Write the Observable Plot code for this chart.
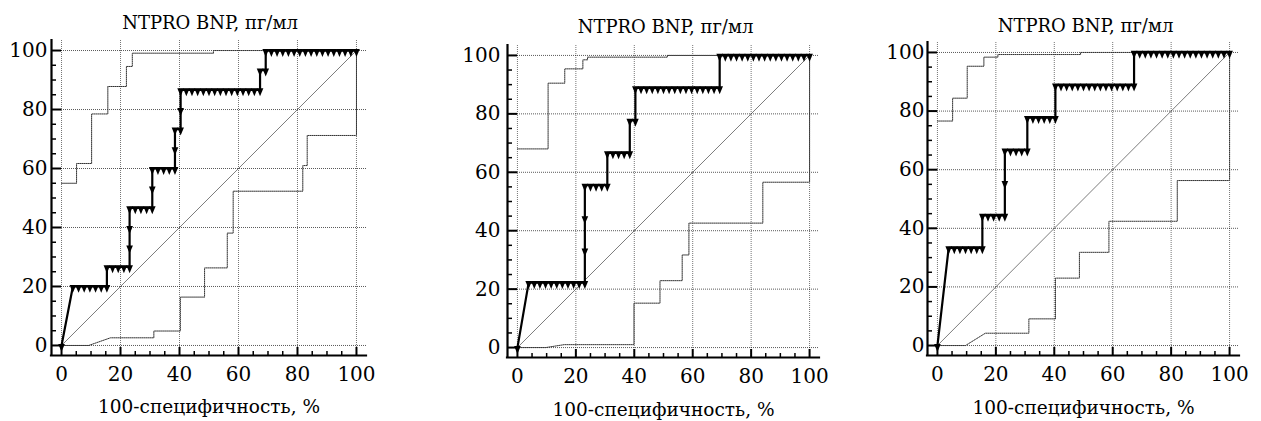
<!DOCTYPE html>
<html><head><meta charset="utf-8">
<script src="https://cdn.jsdelivr.net/npm/d3@7"></script>
<script src="https://cdn.jsdelivr.net/npm/@observablehq/plot@0.6"></script>
<style>
body{margin:0;background:#fff;}
#wrap{position:relative;width:1261px;height:421px;overflow:hidden;background:#fff;}
.panel{position:absolute;top:0;}
</style></head><body><div id="wrap"></div>
<script>
// ---------- texts & ticks ----------
const titleText = "NTPRO BNP, пг/мл";
const xLabelText = "100-специфичность, %";
const tickValues = [0, 20, 40, 60, 80, 100];
const minorTickValues = [5, 10, 15, 25, 30, 35, 45, 50, 55, 65, 70, 75, 85, 90, 95];
const diagonal = [[0, 0], [100, 100]];

// ---------- panel 1 ----------
const p1Roc = [[0,0],[3.85,20],[5.77,20],[7.69,20],[9.62,20],[11.54,20],[13.46,20],[15.38,20],
  [15.38,26.67],[17.31,26.67],[19.23,26.67],[21.15,26.67],[23.08,26.67],
  [23.08,33.33],[23.08,40],[23.08,46.67],[25,46.67],[26.92,46.67],[28.85,46.67],[30.77,46.67],
  [30.77,53.33],[30.77,60],[32.69,60],[34.62,60],[36.54,60],[38.46,60],
  [38.46,66.67],[38.46,73.33],[40.38,73.33],[40.38,80],[40.38,86.67],
  [42.31,86.67],[44.23,86.67],[46.15,86.67],[48.08,86.67],[50,86.67],[51.92,86.67],[53.85,86.67],
  [55.77,86.67],[57.69,86.67],[59.62,86.67],[61.54,86.67],[63.46,86.67],[65.38,86.67],[67.31,86.67],
  [67.31,93.33],[69.23,93.33],[69.23,100],
  [71.15,100],[73.08,100],[75,100],[76.92,100],[78.85,100],[80.77,100],[82.69,100],[84.62,100],
  [86.54,100],[88.46,100],[90.38,100],[92.31,100],[94.23,100],[96.15,100],[98.08,100],[100,100]];
const p1Upper = [[0,55],[5.1,55],[5.1,61.7],[10.2,61.7],[10.2,78.5],[15.7,78.5],[15.7,87.8],[22,87.8],
  [22,94.6],[24,94.6],[24,99.1],[51.5,99.1],[51.5,100],[100,100]];
const p1Lower = [[0,0],[9.2,0],[16.6,2.6],[31.3,2.6],[31.3,4.9],[40.3,4.9],[40.3,16.4],[48.5,16.4],
  [48.5,26.3],[56.2,26.3],[56.2,38.1],[58.2,38.1],[58.2,52.3],[81.8,52.3],[81.8,61],[83.3,61],
  [83.3,71.2],[100,71.2],[100,100]];

// ---------- panel 2 ----------
const p2Roc = [[0,0],[3.85,22.22],[5.77,22.22],[7.69,22.22],[9.62,22.22],[11.54,22.22],[13.46,22.22],
  [15.38,22.22],[17.31,22.22],[19.23,22.22],[21.15,22.22],[23.08,22.22],
  [23.08,33.33],[23.08,44.44],[23.08,55.56],[25,55.56],[26.92,55.56],[28.85,55.56],[30.77,55.56],
  [30.77,66.67],[32.69,66.67],[34.62,66.67],[36.54,66.67],[38.46,66.67],
  [38.46,77.78],[40.38,77.78],[40.38,88.89],
  [42.31,88.89],[44.23,88.89],[46.15,88.89],[48.08,88.89],[50,88.89],[51.92,88.89],[53.85,88.89],
  [55.77,88.89],[57.69,88.89],[59.62,88.89],[61.54,88.89],[63.46,88.89],[65.38,88.89],[67.31,88.89],
  [69.23,88.89],[69.23,100],
  [71.15,100],[73.08,100],[75,100],[76.92,100],[78.85,100],[80.77,100],[82.69,100],[84.62,100],
  [86.54,100],[88.46,100],[90.38,100],[92.31,100],[94.23,100],[96.15,100],[98.08,100],[100,100]];
const p2Upper = [[0,68],[10.5,68],[10.5,90.5],[16.2,90.5],[16.2,95.4],[22.4,95.4],[22.4,98.5],[24,98.5],
  [24,99.4],[51.3,99.4],[51.3,100],[100,100]];
const p2Lower = [[0,0],[9.7,0],[16,1],[39.9,1],[39.9,15.2],[48.8,15.2],[48.8,22.9],[56.4,22.9],
  [56.4,31.7],[58.7,31.7],[58.7,42.6],[84,42.6],[84,56.6],[100,56.6],[100,100]];

// ---------- panel 3 ----------
const p3Roc = [[0,0],[3.85,33.33],[5.77,33.33],[7.69,33.33],[9.62,33.33],[11.54,33.33],[13.46,33.33],[15.38,33.33],
  [15.38,44.44],[17.31,44.44],[19.23,44.44],[21.15,44.44],[23.08,44.44],
  [23.08,55.56],[23.08,66.67],[25,66.67],[26.92,66.67],[28.85,66.67],[30.77,66.67],
  [30.77,77.78],[32.69,77.78],[34.62,77.78],[36.54,77.78],[38.46,77.78],[40.38,77.78],
  [40.38,88.89],[42.31,88.89],[44.23,88.89],[46.15,88.89],[48.08,88.89],[50,88.89],[51.92,88.89],
  [53.85,88.89],[55.77,88.89],[57.69,88.89],[59.62,88.89],[61.54,88.89],[63.46,88.89],[65.38,88.89],[67.31,88.89],
  [67.31,100],[69.23,100],
  [71.15,100],[73.08,100],[75,100],[76.92,100],[78.85,100],[80.77,100],[82.69,100],[84.62,100],
  [86.54,100],[88.46,100],[90.38,100],[92.31,100],[94.23,100],[96.15,100],[98.08,100],[100,100]];
const p3Upper = [[0,76.6],[5.2,76.6],[5.2,84.4],[10.2,84.4],[10.2,95.3],[15.9,95.3],[15.9,98.4],[20.7,98.4],
  [20.7,99.3],[49,99.3],[49,100],[100,100]];
const p3Lower = [[0,0],[9.6,0],[16.4,4.2],[31.3,4.2],[31.3,9.1],[40.4,9.1],[40.4,23],[48.6,23],
  [48.6,31.8],[58.7,31.8],[58.7,42.4],[82.1,42.4],[82.1,56.3],[100,56.3],[100,100]];

// ---------- drawing ----------
const axisDomain = [-3.4, 103.4];
const font = "DejaVu Serif";
const triangleDown = {
  draw(ctx, size) {
    const s = Math.sqrt(size);
    const w = s * 1.25, h = s * 1.5;
    ctx.moveTo(-w / 2, -h * 0.2);
    ctx.lineTo(w / 2, -h * 0.2);
    ctx.lineTo(0, h * 0.8);
    ctx.closePath();
  }
};
const px = d => d[0], py = d => d[1];

function drawPanel(cfg) {
  const H = 421;
  const fw = cfg.frameRight - cfg.frameLeft, fh = cfg.frameBottom - cfg.frameTop;
  const chart = Plot.plot({
    width: cfg.svgWidth, height: H,
    marginLeft: cfg.frameLeft - cfg.svgLeft,
    marginRight: cfg.svgLeft + cfg.svgWidth - cfg.frameRight,
    marginTop: cfg.frameTop,
    marginBottom: H - cfg.frameBottom,
    x: {domain: axisDomain, axis: null, label: null},
    y: {domain: axisDomain, axis: null, label: null},
    style: {fontFamily: font, fontSize: "20px", background: "white", color: "black", overflow: "visible"},
    marks: [
      Plot.ruleY(tickValues, {y: d => d, stroke: "#000", strokeOpacity: 0.65, strokeDasharray: "1,1"}),
      Plot.ruleX(tickValues, {x: d => d, stroke: "#000", strokeOpacity: 0.55, strokeDasharray: "1,1"}),
      Plot.line(diagonal, {x: px, y: py, stroke: "#444", strokeWidth: 0.7}),
      Plot.line(cfg.upper, {x: px, y: py, stroke: "#333", strokeWidth: 1, strokeDasharray: "1,1"}),
      Plot.line(cfg.lower, {x: px, y: py, stroke: "#333", strokeWidth: 1, strokeDasharray: "1,1"}),
      Plot.line(cfg.roc, {x: px, y: py, stroke: "black", strokeWidth: 2.2, strokeLinejoin: "miter"}),
      Plot.dot(cfg.roc, {x: px, y: py, symbol: triangleDown, r: 3, fill: "black", stroke: "none"}),
      // axis lines
      Plot.ruleX([axisDomain[0]], {stroke: "black", strokeWidth: 2.2, strokeLinecap: "square"}),
      Plot.ruleY([axisDomain[0]], {stroke: "black", strokeWidth: 2.2, strokeLinecap: "square"}),
      // inward ticks
      Plot.ruleX(tickValues, {x: d => d, insetTop: fh - 8, stroke: "black", strokeWidth: 2}),
      Plot.ruleX(minorTickValues, {x: d => d, insetTop: fh - 4, stroke: "black", strokeWidth: 1.5}),
      Plot.ruleY(tickValues, {y: d => d, insetRight: fw - 10, stroke: "black", strokeWidth: 2}),
      Plot.ruleY(minorTickValues, {y: d => d, insetRight: fw - 5, stroke: "black", strokeWidth: 1.5}),
      // tick labels
      Plot.axisX({ticks: tickValues, tickSize: 0, tickPadding: 11, label: null, fontSize: 20, fontFamily: font, fill: "black"}),
      Plot.axisY({ticks: tickValues, tickSize: 0, tickPadding: cfg.yPad, label: null, fontSize: 20, fontFamily: font, fill: "black"}),
      // title and x label
      Plot.text([titleText], {text: d => d, frameAnchor: "top", lineAnchor: "bottom", dy: cfg.titleDy, dx: cfg.titleDx, fontSize: 18, fontFamily: font, fill: "black"}),
      Plot.text([xLabelText], {text: d => d, frameAnchor: "bottom", lineAnchor: "bottom", dy: cfg.xLabelDy, fontSize: 18.5, fontFamily: font, fill: "black"})
    ]
  });
  const div = document.createElement("div");
  div.className = "panel";
  div.style.left = cfg.svgLeft + "px";
  div.appendChild(chart);
  document.getElementById("wrap").appendChild(div);
}

drawPanel({roc: p1Roc, upper: p1Upper, lower: p1Lower, svgLeft: 0, svgWidth: 420,
  frameLeft: 51, frameRight: 366, frameTop: 40, frameBottom: 355, yPad: 4, titleDy: -12, titleDx: 1, xLabelDy: 57});
drawPanel({roc: p2Roc, upper: p2Upper, lower: p2Lower, svgLeft: 440, svgWidth: 420,
  frameLeft: 507, frameRight: 819, frameTop: 45, frameBottom: 357, yPad: 7, titleDy: -13, titleDx: 2, xLabelDy: 58});
drawPanel({roc: p3Roc, upper: p3Upper, lower: p3Lower, svgLeft: 861, svgWidth: 400,
  frameLeft: 927, frameRight: 1239, frameTop: 42, frameBottom: 355, yPad: 3, titleDy: -11, titleDx: 2, xLabelDy: 58});
</script>
</body></html>
